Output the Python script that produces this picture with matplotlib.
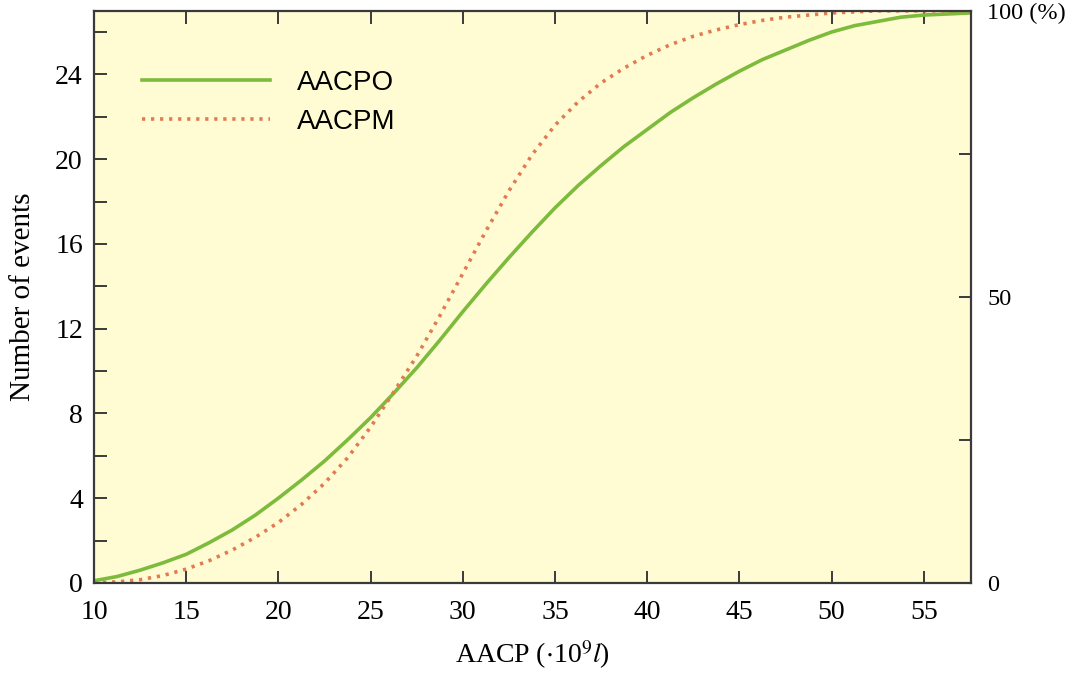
import matplotlib
matplotlib.use("Agg")
import matplotlib.pyplot as plt

# values
aacp = [10, 11.25, 12.5, 13.75, 15, 16.25, 17.5, 18.75, 20, 21.25, 22.5,
        23.75, 25, 26.25, 27.5, 28.75, 30, 31.25, 32.5, 33.75, 35, 36.25,
        37.5, 38.75, 40, 41.25, 42.5, 43.75, 45, 46.25, 47.5, 48.75, 50,
        51.25, 52.5, 53.75, 55, 56.25, 57.5]
aacpo = [0.1, 0.3, 0.6, 0.95, 1.35, 1.9, 2.5, 3.2, 4.0, 4.85, 5.75, 6.75,
         7.8, 8.95, 10.15, 11.45, 12.8, 14.1, 15.35, 16.55, 17.7, 18.75, 19.7,
         20.6, 21.4, 22.2, 22.9, 23.55, 24.15, 24.7, 25.15, 25.6, 26.0,
         26.3, 26.5, 26.7, 26.8, 26.85, 26.9]
aacpm = [0.0, 0.05, 0.15, 0.35, 0.65, 1.05, 1.55, 2.15, 2.85, 3.7, 4.7, 5.9,
         7.35, 9.0, 10.7, 12.6, 14.6, 16.6, 18.5, 20.2, 21.6, 22.7, 23.6,
         24.3, 24.9, 25.4, 25.8, 26.1, 26.35, 26.55, 26.7, 26.8, 26.9,
         26.95, 27.0, 27.0, 27.0, 27.0, 27.0]

left_ticks = [0, 4, 8, 12, 16, 20, 24]
right_ticks = [0, 25, 50, 75, 100]
right_labels = ["0", "", "50", "", "100 (%)"]

plt.rcParams["font.family"] = ["Liberation Serif", "DejaVu Serif"]
plt.rcParams["mathtext.fontset"] = "stix"

fig = plt.figure(figsize=(10.68, 6.77), dpi=100)
ax = fig.add_axes([0.088, 0.139, 0.821, 0.845])
ax.set_facecolor("#fffcd4")

ax.plot(aacp, aacpo, color="#7dbb3c", lw=2.6, label="AACPO")
ax.plot(aacp, aacpm, color="#e27a52", lw=2.6, linestyle=(0, (0.9, 1.6)),
        label="AACPM")

ax.set_xlim(10, 57.55)
ax.set_ylim(0, 27)
ax.set_xticks(range(10, 56, 5))
ax.set_yticks(left_ticks)
ax.set_yticks(range(0, 27, 2), minor=True)

spine_c = "#3a3a3a"
for s in ax.spines.values():
    s.set_color(spine_c)
    s.set_linewidth(1.6)

ax.tick_params(which="both", direction="in", length=9, width=1.4,
               color=spine_c, labelsize=20, top=True, right=False)
ax.tick_params(axis="x", pad=12)
ax.tick_params(axis="y", pad=8)

ax2 = ax.twinx()
ax2.set_ylim(0, 100)
ax2.set_yticks(right_ticks)
ax2.set_yticklabels(right_labels)
ax2.tick_params(direction="in", length=9, width=1.4, color=spine_c,
                labelsize=17.5, pad=12)
for s in ax2.spines.values():
    s.set_visible(False)

ax.set_ylabel("Number of events", fontsize=21, labelpad=14)
ax.set_xlabel(r"AACP ($\cdot$10$^{9}$$\mathit{l}$)", fontsize=20, labelpad=10)

leg = ax.legend(loc="upper left", bbox_to_anchor=(0.026, 0.94), frameon=False,
                handlelength=4.6, handletextpad=1.0, labelspacing=0.45,
                prop={"family": "Liberation Sans", "size": 20})

fig.savefig("out.png", dpi=100)
